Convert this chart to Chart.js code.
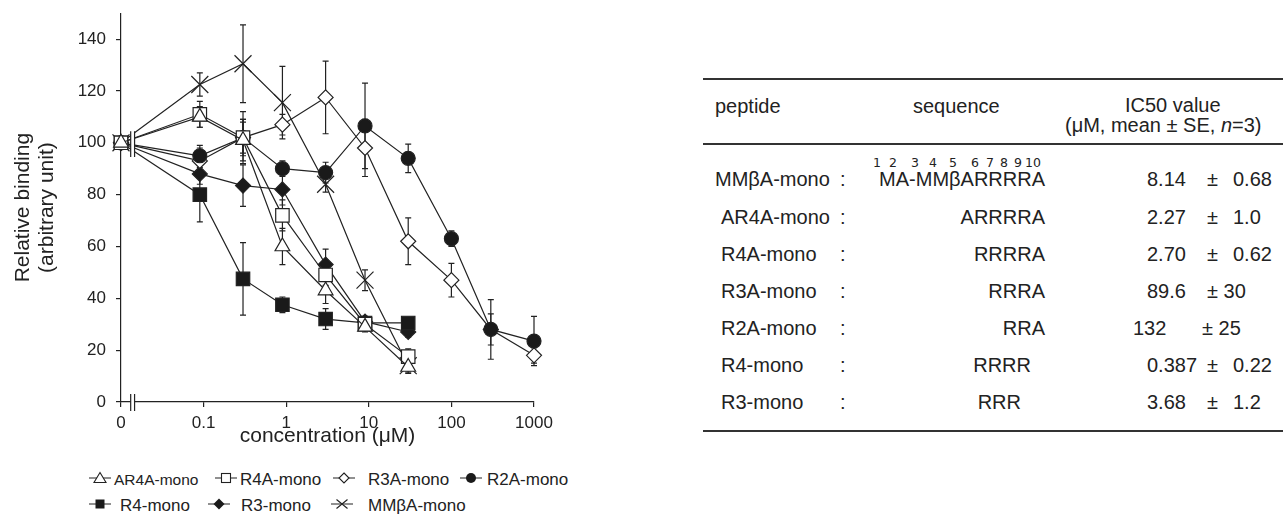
<!DOCTYPE html>
<html>
<head>
<meta charset="utf-8">
<script src="https://cdn.jsdelivr.net/npm/chart.js@4.4.0/dist/chart.umd.min.js"></script>
<style>
	body { margin: 0; width: 1284px; height: 517px; background: #fff; position: relative; overflow: hidden;
		font-family: "Liberation Sans", Arial, sans-serif; color: #222; }
	#chartBox { position: absolute; left: 0; top: 0; width: 600px; height: 455px; }
	.t { position: absolute; white-space: nowrap; font-size: 20px; line-height: 20px; transform: translateY(-50%); }
	.hl { position: absolute; left: 703px; width: 580px; background: #333; }
	.sup { position: absolute; font-family: "DejaVu Sans", sans-serif; font-size: 12.5px; line-height: 12px; transform: translate(-50%, -50%); }
	.lg { position: absolute; white-space: nowrap; font-size: 17px; line-height: 17px; transform: translateY(-50%); }
	.lg svg { position: absolute; top: -1px; }
</style>
</head>
<body>
<div id="chartBox"><canvas id="bindingChart"></canvas></div>
<div id="legend"></div>
<div id="table"></div>
<script>
// concentration positions on the log axis, first one stands for "0"
const concentrations = [0.01, 0.09, 0.3, 0.9, 3, 9, 30, 100, 300, 1000];
const xTickValues = [0.01, 0.1, 1, 10, 100, 1000];
const xTickLabels = ['0', '0.1', '1', '10', '100', '1000'];
const yTickValues = [0, 20, 40, 60, 80, 100, 120, 140];

// relative binding (mean) and SE for each peptide
const ar4aMono = [100, 110, 101, 60, 43, 29, 13.5];
const ar4aErr = [0, 4, 8, 7, 5, 2, 2];
const r4aMono = [100, 111, 102, 72, 49, 30, 17.5];
const r4aErr = [0, 5, 7, 6, 4, 2, 3];
const r3aMono = [100, 93, 102, 107, 117.5, 98, 62, 47, 28, 18];
const r3aErr = [0, 6, 10, 4, 14, 11, 9, 6.5, 6, 3];
const r2aMono = [100, 95, 102, 90, 88.5, 106.5, 94, 63, 28, 23.5];
const r2aErr = [0, 3, 6, 3, 4, 16.5, 5.5, 3, 11.5, 9.5];
const r4Mono = [100, 80, 47.5, 37.5, 32, 30.5, 30.5];
const r4Err = [0, 10.5, 14, 3, 4, 2, 2];
const r3Mono = [100, 88, 83.5, 82, 53, 31, 27];
const r3Err = [0, 4, 8, 6, 6, 2, 2];
const mmbaMono = [100, 122.5, 130.5, 115.5, 84, 47, 14];
const mmbaErr = [0, 4.5, 15, 14, 3, 4, 3];

// IC50 table
const peptides = ['MMβA-mono', 'AR4A-mono', 'R4A-mono', 'R3A-mono', 'R2A-mono', 'R4-mono', 'R3-mono'];
const sequences = ['MA-MMβARRRRA', 'ARRRRA', 'RRRRA', 'RRRA', 'RRA', 'RRRR', 'RRR'];
const ic50Mean = ['8.14', '2.27', '2.70', '89.6', '132', '0.387', '3.68'];
const ic50SE = ['0.68', '1.0', '0.62', '30', '25', '0.22', '1.2'];
const residueNumbers = ['1', '2', '3', '4', '5', '6', '7', '8', '9', '10'];

const INK = '#222';
const FONT = '"Liberation Sans", Arial, sans-serif';

function points(values) {
	return values.map((v, i) => ({ x: concentrations[i], y: v }));
}

function series(label, values, errors, style, radius, filled) {
	return {
		label: label,
		data: points(values),
		errors: errors,
		borderColor: INK,
		borderWidth: 1.2,
		pointStyle: style,
		pointRadius: radius,
		pointBorderWidth: 1.2,
		pointBorderColor: INK,
		pointBackgroundColor: filled ? '#1a1a1a' : '#fff',
		clip: false,
		tension: 0
	};
}

const errorBars = {
	id: 'errorBars',
	beforeDatasetsDraw(chart) {
		const ctx = chart.ctx;
		const xs = chart.scales.x, ys = chart.scales.y;
		ctx.save();
		ctx.strokeStyle = INK;
		ctx.lineWidth = 1.2;
		chart.data.datasets.forEach(ds => {
			ds.data.forEach((p, i) => {
				const e = ds.errors[i];
				if (!e) return;
				const px = xs.getPixelForValue(p.x);
				const top = ys.getPixelForValue(p.y + e);
				const bot = ys.getPixelForValue(p.y - e);
				ctx.beginPath();
				ctx.moveTo(px, top); ctx.lineTo(px, bot);
				ctx.moveTo(px - 3, top); ctx.lineTo(px + 3, top);
				ctx.moveTo(px - 3, bot); ctx.lineTo(px + 3, bot);
				ctx.stroke();
			});
		});
		ctx.restore();
	}
};

// "||" marks between 0 and the log part
const axisBreak = {
	id: 'axisBreak',
	afterDraw(chart) {
		const ctx = chart.ctx;
		const xs = chart.scales.x, ys = chart.scales.y;
		const x1 = xs.getPixelForValue(0.0131), x2 = xs.getPixelForValue(0.0146);
		ctx.save();
		ctx.strokeStyle = INK;
		ctx.lineWidth = 1.2;
		const mark = (top, bot) => {
			ctx.fillStyle = '#fff';
			ctx.fillRect(x1, top, x2 - x1, bot - top);
			ctx.beginPath();
			ctx.moveTo(x1, top); ctx.lineTo(x1, bot);
			ctx.moveTo(x2, top); ctx.lineTo(x2, bot);
			ctx.stroke();
		};
		mark(ys.getPixelForValue(104.5), ys.getPixelForValue(94.5));
		mark(ys.bottom - 8, ys.bottom + 9);
		ctx.restore();
	}
};

const ctx = document.getElementById('bindingChart').getContext('2d');
new Chart(ctx, {
	type: 'line',
	data: {
		datasets: [
			series('AR4A-mono', ar4aMono, ar4aErr, 'triangle', 8.5, false),
			series('R4A-mono', r4aMono, r4aErr, 'rect', 9.5, false),
			series('R2A-mono', r2aMono, r2aErr, 'circle', 7, true),
			series('R3A-mono', r3aMono, r3aErr, 'rectRot', 7.5, false),
			series('R4-mono', r4Mono, r4Err, 'rect', 9.5, true),
			series('R3-mono', r3Mono, r3Err, 'rectRot', 7.5, true),
			series('MMβA-mono', mmbaMono, mmbaErr, 'crossRot', 12, false)
		]
	},
	options: {
		responsive: true,
		maintainAspectRatio: false,
		animation: false,
		events: [],
		layout: { padding: { left: 0, right: 66, top: 13, bottom: 0 } },
		plugins: { legend: { display: false }, tooltip: { enabled: false } },
		scales: {
			x: {
				type: 'logarithmic',
				min: 0.01,
				max: 1000,
				afterBuildTicks: scale => { scale.ticks = xTickValues.map(v => ({ value: v })); },
				afterFit: scale => { scale.height = 53; },
				ticks: {
					autoSkip: false,
					maxRotation: 0,
					padding: 6,
					color: INK,
					font: { family: FONT, size: 17 },
					callback: (val, idx) => xTickLabels[idx]
				},
				grid: { display: true, drawOnChartArea: false, tickLength: 5, color: INK, lineWidth: 1.2 },
				border: { color: INK, width: 1.2 },
				title: {
					display: true,
					text: 'concentration (μM)',
					color: INK,
					padding: { top: 0, bottom: 6 },
					font: { family: FONT, size: 21 }
				}
			},
			y: {
				min: 0,
				max: 150,
				afterBuildTicks: scale => { scale.ticks = yTickValues.map(v => ({ value: v })); },
				afterFit: scale => {
					scale.width = 121;
					scale.paddingTop = 0;
					scale.paddingBottom = 0;
				},
				ticks: {
					padding: 10,
					color: INK,
					font: { family: FONT, size: 17 }
				},
				grid: { display: true, drawOnChartArea: false, tickLength: 5, color: INK, lineWidth: 1.2 },
				border: { color: INK, width: 1.2 },
				title: {
					display: true,
					text: ['Relative binding', '(arbitrary unit)'],
					color: INK,
					padding: { top: 11, bottom: 0 },
					font: { family: FONT, size: 21, lineHeight: 1.15 }
				}
			}
		}
	},
	plugins: [errorBars, axisBreak]
});

// legend (line + marker, then name)
function symbolSvg(kind) {
	let m = '';
	if (kind === 'triangle') m = '<polygon points="12,2 18,12 6,12" fill="#fff" stroke="#222" stroke-width="1.1"/>';
	if (kind === 'square') m = '<rect x="7.5" y="3" width="9" height="9" fill="#fff" stroke="#222" stroke-width="1.1"/>';
	if (kind === 'diamond') m = '<polygon points="12,2.5 17,7.5 12,12.5 7,7.5" fill="#fff" stroke="#222" stroke-width="1.1"/>';
	if (kind === 'circle') m = '<circle cx="12" cy="7.5" r="5" fill="#1a1a1a"/>';
	if (kind === 'fsquare') m = '<rect x="7.5" y="3" width="9" height="9" fill="#1a1a1a"/>';
	if (kind === 'fdiamond') m = '<polygon points="12,2 17.5,7.5 12,13 6.5,7.5" fill="#1a1a1a"/>';
	if (kind === 'cross') m = '<path d="M6.5,3 L17.5,12 M6.5,12 L17.5,3" stroke="#222" stroke-width="1.1"/>';
	return '<svg width="24" height="15"><line x1="1" y1="7.5" x2="23" y2="7.5" stroke="#222" stroke-width="1.1"/>' + m + '</svg>';
}

const legendItems = [
	{ kind: 'triangle', name: 'AR4A-mono', sx: 88, tx: 114, y: 479, size: 15.5 },
	{ kind: 'square', name: 'R4A-mono', sx: 214, tx: 240, y: 479 },
	{ kind: 'diamond', name: 'R3A-mono', sx: 332, tx: 368, y: 479 },
	{ kind: 'circle', name: 'R2A-mono', sx: 459, tx: 487, y: 479 },
	{ kind: 'fsquare', name: 'R4-mono', sx: 88, tx: 120, y: 505 },
	{ kind: 'fdiamond', name: 'R3-mono', sx: 207, tx: 241, y: 505 },
	{ kind: 'cross', name: 'MMβA-mono', sx: 330, tx: 368, y: 505 }
];
let lg = '';
legendItems.forEach(it => {
	lg += '<div class="lg" style="left:' + it.sx + 'px;top:' + it.y + 'px;width:24px;height:15px">' + symbolSvg(it.kind) + '</div>';
	lg += '<div class="lg" style="left:' + it.tx + 'px;top:' + it.y + 'px;' + (it.size ? 'font-size:' + it.size + 'px;' : '') + '">' + it.name + '</div>';
});
document.getElementById('legend').innerHTML = lg;

// IC50 table
const rowY = [179, 216.5, 253.5, 290.5, 327.5, 364.5, 401.5];
const nameX = [715, 721, 721, 721, 721, 721, 721];
const seqRight = [1045, 1045, 1045, 1045, 1045, 1031, 1021];
const meanX = [1147, 1147, 1147, 1147, 1133, 1147, 1147];
let tb = '';
tb += '<div class="hl" style="top:78px;height:1.5px"></div>';
tb += '<div class="hl" style="top:143px;height:2px"></div>';
tb += '<div class="hl" style="top:430px;height:1.5px"></div>';
tb += '<div class="t" style="left:715px;top:106px">peptide</div>';
tb += '<div class="t" style="left:913px;top:106px">sequence</div>';
tb += '<div class="t" style="left:1125px;top:105px">IC50 value</div>';
tb += '<div class="t" style="left:1065px;top:125px">(μM, mean ± SE, <i>n</i>=3)</div>';
peptides.forEach((p, i) => {
	const y = rowY[i];
	tb += '<div class="t" style="left:' + nameX[i] + 'px;top:' + y + 'px">' + p + '</div>';
	tb += '<div class="t" style="left:840px;top:' + y + 'px">:</div>';
	tb += '<div class="t" style="right:' + (1284 - seqRight[i]) + 'px;top:' + y + 'px">' + sequences[i] + '</div>';
	tb += '<div class="t" style="left:' + meanX[i] + 'px;top:' + y + 'px">' + ic50Mean[i] + '</div>';
	const wide = ic50SE[i].length === 2 && ic50SE[i].indexOf('.') < 0;
	if (wide) {
		tb += '<div class="t" style="left:' + (i === 4 ? 1202 : 1207) + 'px;top:' + y + 'px">± ' + ic50SE[i] + '</div>';
	} else {
		tb += '<div class="t" style="left:1207px;top:' + y + 'px">±</div>';
		tb += '<div class="t" style="left:1233px;top:' + y + 'px">' + ic50SE[i] + '</div>';
	}
});
const supX = [877, 893, 915, 933, 953, 975, 990, 1004, 1018, 1033];
residueNumbers.forEach((n, i) => {
	tb += '<div class="sup" style="left:' + supX[i] + 'px;top:163px">' + n + '</div>';
});
document.getElementById('table').innerHTML = tb;
</script>
</body>
</html>
